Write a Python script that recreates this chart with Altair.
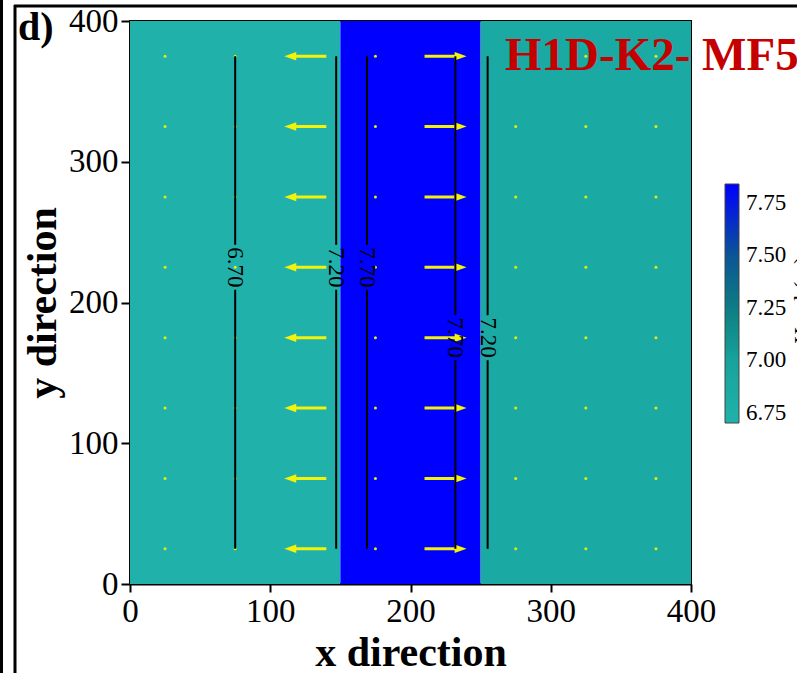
import altair as alt
import pandas as pd

# ---- data -------------------------------------------------------------
# material zones along x (m) and the head value shaded in each zone
zone_x0 = [0, 150, 250]
zone_x1 = [150, 250, 400]
zone_head = [6.71, 7.84, 6.86]
domain_y = [0, 400]

# head contour lines (vertical) with their labels
contour_x = [75, 147, 169, 232, 255]
contour_level = ["6.70", "7.20", "7.70", "7.70", "7.20"]
contour_label_y = [225, 225, 225, 175, 175]
contour_y_start = 25
contour_y_end = 375
label_gap = 16  # half gap left in a line around its label (m)

# velocity field sampled on a 50 m grid: x-component per column (m, drawn to x scale)
grid_x = [25, 75, 125, 175, 225, 275, 325, 375]
grid_y = [25, 75, 125, 175, 225, 275, 325, 375]
grid_u = [0, 0, -30, 0, 30, 0, 0, 0]

# colour bar
bar_domain = [6.70, 7.00, 7.25, 7.50, 7.84]
bar_colors = ["#20b2aa", "#17a39c", "#0e7c82", "#0b5596", "#0000ff"]
bar_ticks = [6.75, 7.00, 7.25, 7.50, 7.75]

axis_ticks = [0, 100, 200, 300, 400]

# ---- tables -----------------------------------------------------------
zones = pd.DataFrame({
    "x0": zone_x0, "x1": zone_x1,
    "y0": [domain_y[0]] * len(zone_x0), "y1": [domain_y[1]] * len(zone_x0),
    "head": zone_head,
})

seg_rows = []
for cx, ly in zip(contour_x, contour_label_y):
    seg_rows.append({"x": cx, "ya": contour_y_start, "yb": ly - label_gap})
    seg_rows.append({"x": cx, "ya": ly + label_gap, "yb": contour_y_end})
segments = pd.DataFrame(seg_rows)

labels = pd.DataFrame({"x": contour_x, "y": contour_label_y, "t": contour_level})

arrow_rows, dot_rows = [], []
head_len = 6  # shaft stops under the arrow head (m)
for gx, u in zip(grid_x, grid_u):
    for gy in grid_y:
        if u == 0:
            dot_rows.append({"x": gx, "y": gy})
        else:
            s = 1 if u > 0 else -1
            tail, tip = gx - u / 2, gx + u / 2
            arrow_rows.append({
                "y": gy, "tail": tail, "tip": tip, "shaft_end": tip - s * head_len,
                "head": "M0,0L-2,-0.7L-2,0.7Z" if s > 0 else "M0,0L2,-0.7L2,0.7Z",
            })
arrows = pd.DataFrame(arrow_rows)
dots = pd.DataFrame(dot_rows)

# ---- scales / axes ----------------------------------------------------
serif = "Liberation Serif"
xs = alt.Scale(domain=domain_y, nice=False, zero=False)
ys = alt.Scale(domain=domain_y, nice=False, zero=False)

common_axis = dict(
    values=axis_ticks, grid=False, domainColor="black", domainWidth=2,
    tickColor="black", tickWidth=2, labelFont=serif, labelFontSize=33,
    labelColor="black", labelFlush=False, labelOverlap=False,
    titleFont=serif, titleFontSize=42, titleFontWeight="bold", titleColor="black",
    titleBaseline="alphabetic",
)
xaxis = alt.Axis(title="x direction", tickSize=8, labelPadding=3, titleY=81, **common_axis)
yaxis = alt.Axis(title="y direction", tickSize=9, labelPadding=3, titleX=-75,
                 titleAngle=270, **common_axis)


def X(field):
    return alt.X(field, type="quantitative", scale=xs, axis=xaxis)


def Y(field):
    return alt.Y(field, type="quantitative", scale=ys, axis=yaxis)


# ---- layers -----------------------------------------------------------
field = alt.Chart(zones).mark_rect().encode(
    x=X("x0"), x2="x1", y=Y("y0"), y2="y1",
    color=alt.Color(
        "head:Q",
        scale=alt.Scale(domain=bar_domain, range=bar_colors, interpolate="rgb"),
        legend=alt.Legend(
            orient="none", legendX=595, legendY=163, direction="vertical",
            gradientLength=239, gradientThickness=14, values=bar_ticks, format=".2f",
            title=None, labelFont=serif, labelFontSize=23, labelColor="black",
            labelOffset=7, gradientStrokeColor="#444", gradientStrokeWidth=1,
        ),
    ),
)

yellow = "#f2f20a"
shafts = alt.Chart(arrows).mark_rule(color=yellow, strokeWidth=3).encode(
    x=X("tail"), x2="shaft_end", y=Y("y")
)
heads = alt.Chart(arrows).mark_point(filled=True, color=yellow, opacity=1, size=144,
                                     strokeWidth=0).encode(
    x=X("tip"), y=Y("y"), shape=alt.Shape("head:N", scale=None, legend=None)
)
still = alt.Chart(dots).mark_circle(color="#e2ee10", size=9, opacity=1).encode(
    x=X("x"), y=Y("y")
)

contours = alt.Chart(segments).mark_rule(color="black", strokeWidth=2).encode(
    x=X("x"), y=Y("ya"), y2="yb"
)
contour_text = alt.Chart(labels).mark_text(
    angle=90, font=serif, fontSize=23, color="black", align="center", baseline="middle"
).encode(x=X("x"), y=Y("y"), text="t:N")

one = pd.DataFrame({"t": [""]})
run_title = alt.Chart(pd.DataFrame({"t": ["H1D-K2- MF5"]})).mark_text(
    font=serif, fontSize=47, fontWeight="bold", color="#c40000",
    align="left", baseline="alphabetic",
).encode(x=alt.value(375), y=alt.value(49), text="t:N")

panel_tag = alt.Chart(pd.DataFrame({"t": ["d)"]})).mark_text(
    font=serif, fontSize=40, fontWeight="bold", color="black",
    align="left", baseline="alphabetic",
).encode(x=alt.value(-112), y=alt.value(19), text="t:N")

bar_title = alt.Chart(pd.DataFrame({"t": ["Head (m)"]})).mark_text(
    font=serif, fontSize=23, color="black", angle=270,
    align="center", baseline="top",
).encode(x=alt.value(662), y=alt.value(279), text="t:N")

# panel frame around the figure
frame_top = alt.Chart(one).mark_rule(color="black", strokeWidth=3).encode(
    x=alt.value(-116), x2=alt.value(680), y=alt.value(-15)
)
frame_left = alt.Chart(one).mark_rule(color="black", strokeWidth=3).encode(
    x=alt.value(-115), y=alt.value(-16), y2=alt.value(660)
)
frame_edge = alt.Chart(one).mark_rule(color="black", strokeWidth=3).encode(
    x=alt.value(-128.5), y=alt.value(-25), y2=alt.value(660)
)

chart = alt.layer(
    field, shafts, heads, still, contours, contour_text,
    run_title, panel_tag, bar_title, frame_top, frame_left, frame_edge,
).properties(
    width=561, height=563,
    autosize=alt.AutoSizeParams(type="none"),
    padding={"left": 130, "top": 21, "right": 106, "bottom": 89},
    background="white",
).configure_view(stroke="black", strokeWidth=2)

chart.save("out.html", embed_options={"renderer": "svg", "actions": False})
